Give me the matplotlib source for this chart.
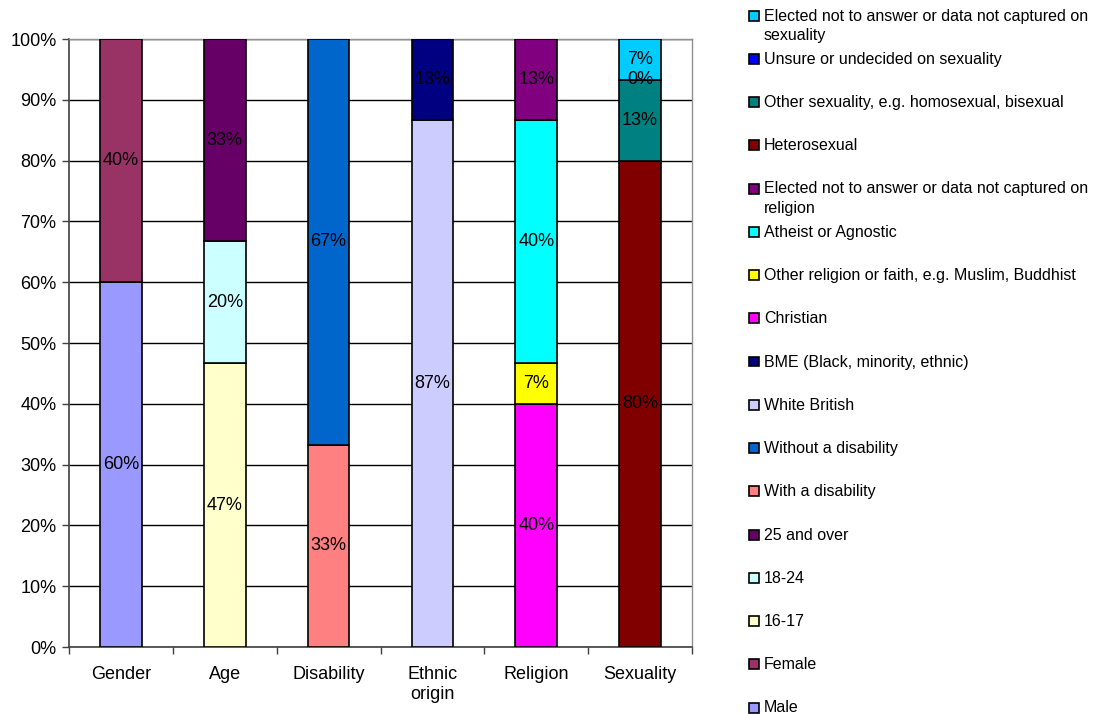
import matplotlib
matplotlib.use("Agg")
import matplotlib.pyplot as plt
from matplotlib.patches import Rectangle

plt.rcParams['font.family'] = ['Liberation Sans', 'DejaVu Sans']

categories = ["Gender", "Age", "Disability", "Ethnic\norigin", "Religion", "Sexuality"]

gender_labels = ["Male", "Female"]
gender_values = [60.0, 40.0]
gender_colors = ["#9999FF", "#993366"]

age_labels = ["16-17", "18-24", "25 and over"]
age_values = [46.7, 20.0, 33.3]
age_colors = ["#FFFFCC", "#CCFFFF", "#660066"]

disability_labels = ["With a disability", "Without a disability"]
disability_values = [33.3, 66.7]
disability_colors = ["#FF8080", "#0066CC"]

ethnic_labels = ["White British", "BME (Black, minority, ethnic)"]
ethnic_values = [86.7, 13.3]
ethnic_colors = ["#CCCCFF", "#000080"]

religion_labels = ["Christian", "Other religion or faith, e.g. Muslim, Buddhist",
                   "Atheist or Agnostic",
                   "Elected not to answer or data not captured on\nreligion"]
religion_values = [40.0, 6.7, 40.0, 13.3]
religion_colors = ["#FF00FF", "#FFFF00", "#00FFFF", "#800080"]

sexuality_labels = ["Heterosexual", "Other sexuality, e.g. homosexual, bisexual",
                    "Unsure or undecided on sexuality",
                    "Elected not to answer or data not captured on\nsexuality"]
sexuality_values = [80.0, 13.3, 0.0, 6.7]
sexuality_colors = ["#800000", "#008080", "#0000FF", "#00CCFF"]

y_ticks = [0, 10, 20, 30, 40, 50, 60, 70, 80, 90, 100]

groups = [
    (gender_values, gender_labels, gender_colors),
    (age_values, age_labels, age_colors),
    (disability_values, disability_labels, disability_colors),
    (ethnic_values, ethnic_labels, ethnic_colors),
    (religion_values, religion_labels, religion_colors),
    (sexuality_values, sexuality_labels, sexuality_colors),
]

W, H = 1094, 714
fig = plt.figure(figsize=(W / 100, H / 100), dpi=100)
ax = fig.add_axes([69 / W, 1 - 647 / H, (692 - 69) / W, (647 - 39) / H])

legend_items = []
for i, (vals, labs, cols) in enumerate(groups):
    bottom = 0.0
    for v, l, c in zip(vals, labs, cols):
        ax.bar(i, v, bottom=bottom, width=0.4, color=c, edgecolor='black',
               linewidth=1.2, zorder=3)
        ax.text(i, bottom + v / 2, f"{v:.0f}%", ha='center', va='center',
                fontsize=13, color='black', zorder=4)
        bottom += v
        legend_items.append((l, c))

ax.set_xlim(-0.5, len(categories) - 0.5)
ax.set_ylim(0, 100)
ax.set_yticks(y_ticks)
ax.set_yticklabels([f"{t}%" for t in y_ticks], fontsize=13)
ax.set_xticks(range(len(categories)))
ax.set_xticklabels(categories, fontsize=13)
ax.tick_params(axis='x', which='major', length=0, pad=14)
ax.set_xticks([k + 0.5 for k in range(-1, len(categories))], minor=True)
ax.tick_params(axis='x', which='minor', length=5, width=1, color='#404040', direction='out')
ax.tick_params(axis='y', length=5, width=1, color='#404040', direction='out', pad=4)
ax.yaxis.grid(True, color='black', linewidth=1.0, zorder=0)
ax.set_axisbelow(True)
for s in ['top', 'right']:
    ax.spines[s].set_color('#909090')
    ax.spines[s].set_linewidth(1.0)
ax.spines['left'].set_color('#404040')
ax.spines['left'].set_linewidth(1.2)
ax.spines['bottom'].set_color('#404040')
ax.spines['bottom'].set_linewidth(1.2)

# Legend (reverse order), drawn in figure pixel space
y0 = 15.5
dy = 43.25
for k, (l, c) in enumerate(reversed(legend_items)):
    yc = y0 + k * dy
    fig.add_artist(Rectangle(((749) / W, 1 - (yc + 5) / H), 10 / W, 10 / H,
                             transform=fig.transFigure, facecolor=c,
                             edgecolor='black', linewidth=1.2))
    fig.text(764 / W, 1 - (yc - 7) / H, l, ha='left', va='top', fontsize=11.5,
             linespacing=1.4, color='black')

fig.savefig("out.png", dpi=100)
